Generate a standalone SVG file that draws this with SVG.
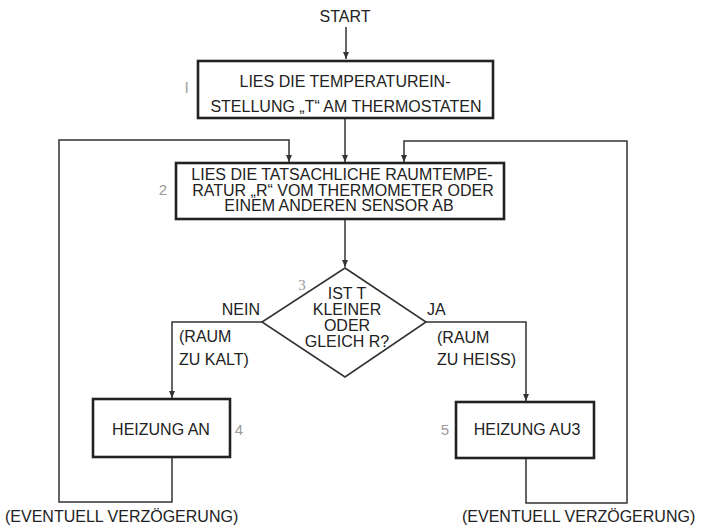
<svg xmlns="http://www.w3.org/2000/svg" width="704" height="527" viewBox="0 0 704 527">
<defs>
<marker id="arr" markerWidth="8" markerHeight="8" refX="7" refY="4" orient="auto" markerUnits="userSpaceOnUse">
<path d="M0,1 L7,4 L0,7 Z" fill="#333"/>
</marker>
<style>
text{font-family:"Liberation Sans",Arial,sans-serif;fill:#222;font-size:16px}
.c{text-anchor:middle}
.box{fill:#fff;stroke:#222;stroke-width:2.6}
.dia{fill:#fff;stroke:#333;stroke-width:1.6}
.ln{fill:none;stroke:#333;stroke-width:1.5}
.num{fill:#999;font-size:15px}
</style>
</defs>
<rect width="704" height="527" fill="#fff"/>
<g id="connectors">
<path class="ln" d="M346,27 V59" marker-end="url(#arr)"/>
<path class="ln" d="M345,118 V162" marker-end="url(#arr)"/>
<path class="ln" d="M345,219 V267" marker-end="url(#arr)"/>
<path class="ln" d="M262,322 H172 V398" marker-end="url(#arr)"/>
<path class="ln" d="M426,322 H526 V401" marker-end="url(#arr)"/>
<path class="ln" d="M172,458 V502 H59 V140 H289 V162" marker-end="url(#arr)"/>
<path class="ln" d="M526,459 V503 H627 V141 H404 V162" marker-end="url(#arr)"/>
</g>
<g id="start">
<text class="c" x="345" y="22" font-size="15">START</text>
</g>
<g id="n1">
<rect class="box" x="198" y="61" width="295" height="57"/>
<text class="c" x="345" y="87" font-size="16.5">LIES DIE TEMPERATUREIN-</text>
<text class="c" x="346" y="112" font-size="16.5">STELLUNG „T“ AM THERMOSTATEN</text>
<text class="num" x="185" y="93" font-size="13">l</text>
</g>
<g id="n2">
<rect class="box" x="176" y="163" width="328" height="56"/>
<text class="c" x="342" y="180" font-size="15.6">LIES DIE TATSACHLICHE RAUMTEMPE-</text>
<text class="c" x="343" y="195.5" font-size="15.6">RATUR „R“ VOM THERMOMETER ODER</text>
<text class="c" x="339" y="211" font-size="15.6">EINEM ANDEREN SENSOR AB</text>
<text class="num c" x="163" y="195" font-size="16">2</text>
</g>
<g id="n3">
<polygon class="dia" points="345,268 426,322 345,377 262,322"/>
<text class="c" x="347" y="299">IST T</text>
<text class="c" x="347" y="315">KLEINER</text>
<text class="c" x="347" y="331">ODER</text>
<text class="c" x="347" y="347">GLEICH R?</text>
<text class="num c" x="302" y="290" font-size="14" style="font-family:'Liberation Serif',serif">3</text>
<text x="260" y="315" text-anchor="end">NEIN</text>
<text x="179" y="342">(RAUM</text>
<text x="179" y="365">ZU KALT)</text>
<text x="427" y="315">JA</text>
<text x="437" y="343">(RAUM</text>
<text x="437" y="365">ZU HEISS)</text>
</g>
<g id="n4">
<rect class="box" x="93" y="399" width="137" height="58"/>
<text class="c" x="161" y="435">HEIZUNG AN</text>
<text class="num c" x="239" y="435">4</text>
<text x="5" y="522">(EVENTUELL VERZÖGERUNG)</text>
</g>
<g id="n5">
<rect class="box" x="456" y="402" width="138" height="56"/>
<text class="c" x="527" y="435">HEIZUNG AU3</text>
<text class="num c" x="445" y="435">5</text>
<text x="462" y="522">(EVENTUELL VERZÖGERUNG)</text>
</g>
</svg>
